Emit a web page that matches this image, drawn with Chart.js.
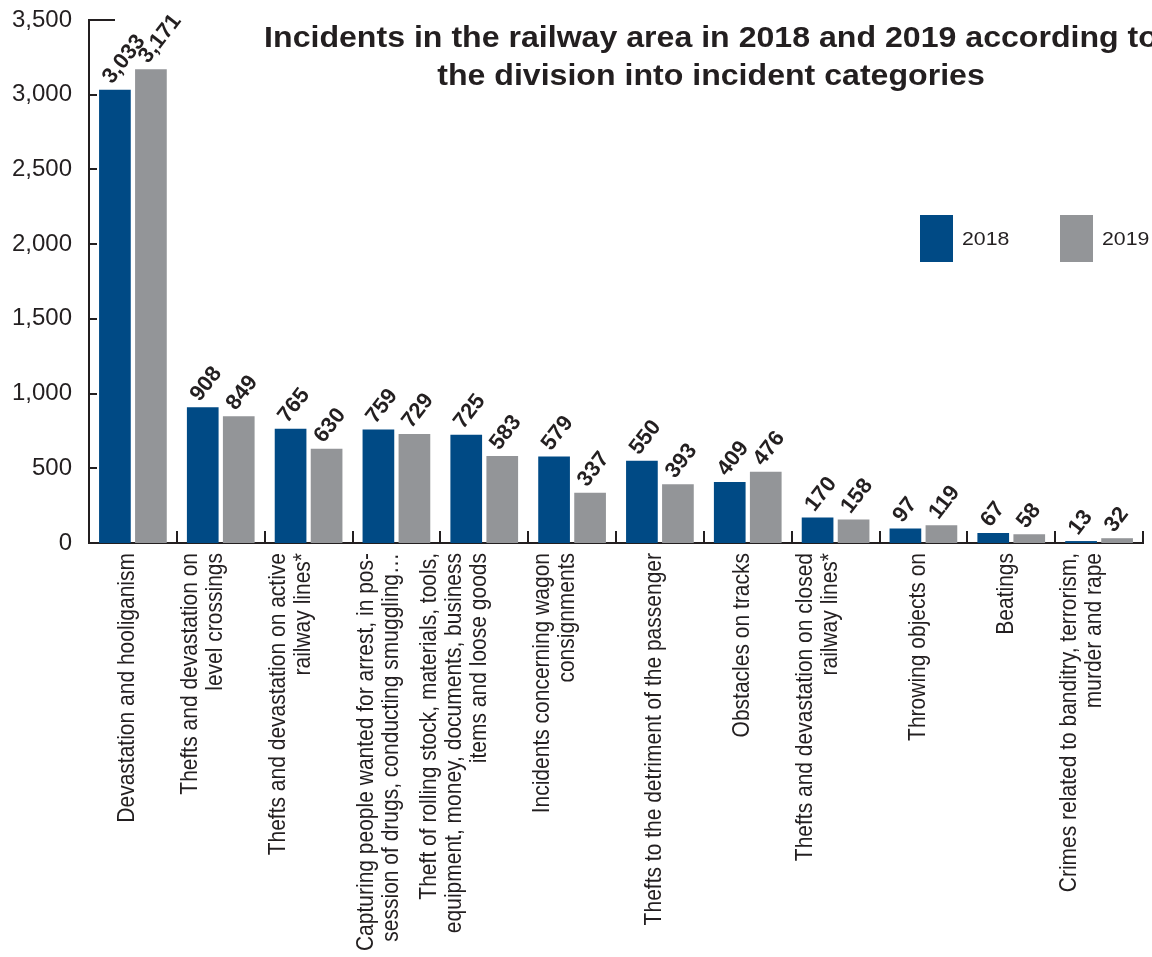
<!DOCTYPE html>
<html>
<head>
<meta charset="utf-8">
<title>Incidents in the railway area</title>
<script src="https://cdn.jsdelivr.net/npm/chart.js@4"></script>
<style>
  html, body { margin: 0; padding: 0; background: #fff; }
  #wrap { width: 1152px; height: 957px; position: relative; }
</style>
</head>
<body>
<div id="wrap"><canvas id="incidentsChart"></canvas></div>
<script>
const categories = [
    'Devastation and hooliganism',
    ['Thefts and devastation on', 'level crossings'],
    ['Thefts and devastation on active', 'railway lines*'],
    ['Capturing people wanted for arrest, in pos-', 'session of drugs, conducting smuggling…'],
    ['Theft of rolling stock, materials, tools,', 'equipment, money, documents, business', 'items and loose goods'],
    ['Incidents concerning wagon', 'consignments'],
    'Thefts to the detriment of the passenger',
    'Obstacles on tracks',
    ['Thefts and devastation on closed', 'railway lines*'],
    'Throwing objects on',
    'Beatings',
    ['Crimes related to banditry, terrorism,', 'murder and rape']
];

const incidents2018 = [3033, 908, 765, 759, 725, 579, 550, 409, 170, 97, 67, 13];
const incidents2019 = [3171, 849, 630, 729, 583, 337, 393, 476, 158, 119, 58, 32];

const titleLines = [
    'Incidents in the railway area in 2018 and 2019 according to',
    'the division into incident categories'
];

const TEXT = '#231f20';
const BLUE = '#004a85';
const GREY = '#939598';
const FONT = '"Liberation Sans", Arial, Helvetica, sans-serif';

// the artwork's type is a little wider than the stock font
const WIDEN = 1.12;

// Short tick marks pointing into the plot, plus the category dividers on the x axis
const innerTicks = {
    id: 'innerTicks',
    afterDraw(chart) {
        const { ctx, chartArea, scales: { x, y } } = chart;
        ctx.save();
        ctx.strokeStyle = TEXT;
        ctx.lineWidth = 2;
        ctx.beginPath();
        y.ticks.forEach((t, i) => {
            const py = Math.round(y.getPixelForValue(t.value));
            const len = i === y.ticks.length - 1 ? 26 : 8;
            ctx.moveTo(chartArea.left, py);
            ctx.lineTo(chartArea.left + len, py);
        });
        for (let i = 0; i < categories.length; i++) {
            const px = i < categories.length - 1
                ? Math.round((x.getPixelForValue(i) + x.getPixelForValue(i + 1)) / 2)
                : chartArea.right;
            ctx.moveTo(px, chartArea.bottom);
            ctx.lineTo(px, chartArea.bottom - 12);
        }
        ctx.stroke();
        ctx.restore();
    }
};

// Vertical category labels, last line sitting on the category centre
const categoryLabels = {
    id: 'categoryLabels',
    afterDraw(chart) {
        const { ctx, chartArea, scales: { x } } = chart;
        const lh = 25;
        ctx.save();
        ctx.fillStyle = TEXT;
        ctx.font = '21px ' + FONT;
        ctx.textAlign = 'right';
        ctx.textBaseline = 'middle';
        categories.forEach((label, i) => {
            const lines = Array.isArray(label) ? label : [label];
            ctx.save();
            ctx.translate(x.getPixelForValue(i) - 5, chartArea.bottom + 10);
            ctx.rotate(-Math.PI / 2);
            ctx.scale(1, WIDEN);
            lines.forEach((line, j) => {
                ctx.fillText(line, 0, (j - (lines.length - 1)) * lh / WIDEN);
            });
            ctx.restore();
        });
        ctx.restore();
    }
};

// Slanted value labels above each bar
const valueLabels = {
    id: 'valueLabels',
    afterDatasetsDraw(chart) {
        const { ctx } = chart;
        ctx.save();
        ctx.fillStyle = TEXT;
        ctx.font = 'bold 22px ' + FONT;
        ctx.textAlign = 'left';
        ctx.textBaseline = 'alphabetic';
        chart.data.datasets.forEach((ds, di) => {
            chart.getDatasetMeta(di).data.forEach((bar, i) => {
                ctx.save();
                ctx.translate(bar.x - 3, bar.y - 5);
                ctx.rotate(-52 * Math.PI / 180);
                ctx.fillText(ds.data[i].toLocaleString('en-US'), 0, 0);
                ctx.restore();
            });
        });
        ctx.restore();
    }
};

// Title and legend drawn over the plot area
const overlay = {
    id: 'overlay',
    afterDraw(chart) {
        const { ctx } = chart;
        ctx.save();
        ctx.fillStyle = TEXT;
        ctx.font = 'bold 30px ' + FONT;
        ctx.textAlign = 'center';
        ctx.textBaseline = 'alphabetic';
        [47, 85].forEach((baseY, i) => {
            ctx.save();
            ctx.translate(711, baseY);
            ctx.scale(1.07, 1);
            ctx.fillText(titleLines[i], 0, 0);
            ctx.restore();
        });

        const legendX = [920, 1060];
        ctx.font = '19px ' + FONT;
        ctx.textAlign = 'left';
        ctx.textBaseline = 'middle';
        chart.data.datasets.forEach((ds, i) => {
            ctx.fillStyle = ds.backgroundColor;
            ctx.fillRect(legendX[i], 215, 33, 47);
            ctx.fillStyle = TEXT;
            ctx.save();
            ctx.translate(legendX[i] + 42, 240);
            ctx.scale(WIDEN, 1);
            ctx.fillText(ds.label, 0, 0);
            ctx.restore();
        });
        ctx.restore();
    }
};

new Chart(document.getElementById('incidentsChart'), {
    type: 'bar',
    data: {
        labels: categories,
        datasets: [
            {
                label: '2018',
                data: incidents2018,
                backgroundColor: BLUE,
                categoryPercentage: 0.82,
                barPercentage: 0.88
            },
            {
                label: '2019',
                data: incidents2019,
                backgroundColor: GREY,
                categoryPercentage: 0.82,
                barPercentage: 0.88
            }
        ]
    },
    options: {
        responsive: true,
        maintainAspectRatio: false,
        animation: false,
        layout: { padding: { top: 20, right: 9, left: 0, bottom: 0 } },
        plugins: {
            legend: { display: false },
            title: { display: false },
            tooltip: { enabled: false }
        },
        scales: {
            x: {
                grid: { display: false, drawTicks: false },
                border: { display: true, color: TEXT, width: 2 },
                ticks: { display: false },
                afterFit(scale) {
                    scale.height = 414;
                    scale.paddingLeft = 0;
                    scale.paddingRight = 0;
                }
            },
            y: {
                min: 0,
                max: 3500,
                grid: { display: false, drawTicks: false },
                border: { display: true, color: TEXT, width: 2 },
                ticks: {
                    stepSize: 500,
                    padding: 17,
                    color: TEXT,
                    font: { family: FONT, size: 24 },
                    callback: v => v.toLocaleString('en-US')
                },
                afterFit(scale) {
                    scale.width = 89;
                    scale.paddingTop = 0;
                    scale.paddingBottom = 0;
                }
            }
        }
    },
    plugins: [innerTicks, categoryLabels, valueLabels, overlay]
});
</script>
</body>
</html>
